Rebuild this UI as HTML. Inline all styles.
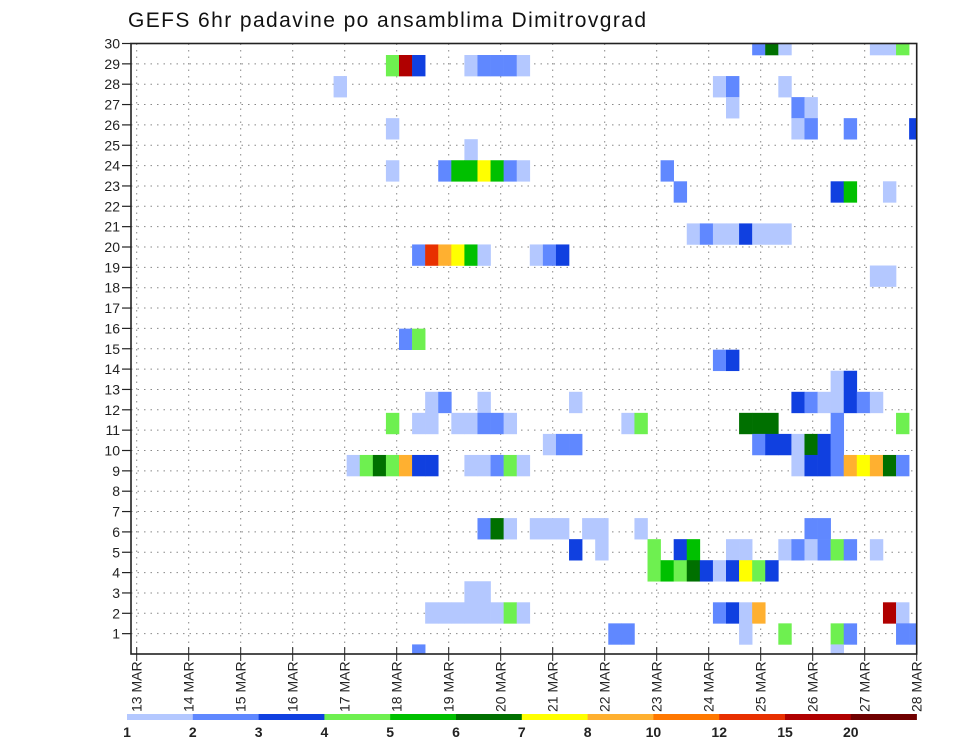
<!DOCTYPE html>
<html><head><meta charset="utf-8"><style>
body{margin:0;background:#fff;}
svg{display:block;font-family:"Liberation Sans",sans-serif;}
</style></head><body>
<svg id="chart" width="960" height="742" viewBox="0 0 960 742" xmlns="http://www.w3.org/2000/svg">
<rect width="960" height="742" fill="#fff"/>
<text x="128" y="27" font-size="21" textLength="518" lengthAdjust="spacing" fill="#111">GEFS 6hr padavine po ansamblima Dimitrovgrad</text>
<defs><clipPath id="plotclip"><rect x="131" y="43.5" width="785.7" height="610.5"/></clipPath></defs>
<g id="grid"></g>
<g id="cells" clip-path="url(#plotclip)"></g>
<rect x="131" y="43.5" width="785.7" height="610.5" fill="none" stroke="#222" stroke-width="1.6"/>
<g id="yaxis"></g>
<g id="xaxis"></g>
<g id="legend"></g>
</svg>
<script>
const memberIdx = [
30,30,30,30,30,30,
29,29,29,29,29,29,29,29,
28,28,28,28,
27,27,27,
26,26,26,26,26,
25,
24,24,24,24,24,24,24,24,24,
23,23,23,23,
21,21,21,21,21,21,21,21,
20,20,20,20,20,20,20,20,20,
19,19,
16,16,
15,15,
14,14,
13,13,13,13,13,13,13,13,13,13,13,
12,12,12,12,12,12,12,12,12,12,12,12,12,12,12,
11,11,11,11,11,11,11,11,11,11,
10,10,10,10,10,10,10,10,10,10,10,10,10,10,10,10,10,10,10,10,10,
7,7,7,7,7,7,7,7,7,7,7,
6,6,6,6,6,6,6,6,6,6,6,6,6,6,
5,5,5,5,5,5,5,5,5,5,
4,4,
3,3,3,3,3,3,3,3,3,3,3,3,3,3,
2,2,2,2,2,2,2,2,
1,1];
const stepIdx = [
47,48,49,56,57,58,
19,20,21,25,26,27,28,29,
15,44,45,49,
45,50,51,
19,50,51,54,59,
25,
19,23,24,25,26,27,28,29,40,
41,53,54,57,
42,43,44,45,46,47,48,49,
21,22,23,24,25,26,30,31,32,
56,57,
20,21,
44,45,
53,54,
22,23,26,33,50,51,52,53,54,55,56,
19,21,22,24,25,26,27,28,37,38,46,47,48,53,58,
31,32,33,47,48,49,50,51,52,53,
16,17,18,19,20,21,22,25,26,27,28,29,50,51,52,53,54,55,56,57,58,
26,27,28,30,31,32,34,35,38,51,52,
33,35,39,41,42,45,46,49,50,51,52,53,54,56,
39,40,41,42,43,44,45,46,47,48,
25,26,
22,23,24,25,26,27,28,29,44,45,46,47,57,58,
36,37,46,49,53,54,58,59,
21,53];
const precip = [
2.5,6.5,1.5,1.5,1.5,4.5,
4.5,17,3.5,1.5,2.5,2.5,2.5,1.5,
1.5,1.5,2.5,1.5,
1.5,2.5,1.5,
1.5,1.5,2.5,2.5,3.5,
1.5,
1.5,2.5,5.5,5.5,7.5,5.5,2.5,1.5,2.5,
2.5,3.5,5.5,1.5,
1.5,2.5,1.5,1.5,3.5,1.5,1.5,1.5,
2.5,13,9,7.5,5.5,1.5,1.5,2.5,3.5,
1.5,1.5,
2.5,4.5,
2.5,3.5,
1.5,3.5,
1.5,2.5,1.5,1.5,3.5,2.5,1.5,1.5,3.5,2.5,1.5,
4.5,1.5,1.5,1.5,1.5,2.5,2.5,1.5,1.5,4.5,6.5,6.5,6.5,2.5,4.5,
1.5,2.5,2.5,2.5,3.5,3.5,1.5,6.5,3.5,2.5,
1.5,4.5,6.5,4.5,9,3.5,3.5,1.5,1.5,2.5,4.5,1.5,1.5,3.5,3.5,2.5,9,7.5,9,6.5,2.5,
2.5,6.5,1.5,1.5,1.5,1.5,1.5,1.5,1.5,2.5,2.5,
3.5,1.5,4.5,3.5,5.5,1.5,1.5,1.5,2.5,1.5,2.5,4.5,2.5,1.5,
4.5,5.5,4.5,6.5,3.5,1.5,3.5,7.5,4.5,3.5,
1.5,1.5,
1.5,1.5,1.5,1.5,1.5,1.5,4.5,1.5,2.5,3.5,1.5,9,17,1.5,
2.5,2.5,1.5,4.5,4.5,2.5,2.5,2.5,
2.5,1.5];
const levelBounds = [1,2,3,4,5,6,7,8,10,12,15,20];
const levelLabels = ["1","2","3","4","5","6","7","8","10","12","15","20"];
const levelColors = ["#b4c8ff","#6088ff","#1040e0","#6ef050","#00c000","#007000","#ffff00","#ffb030","#ff7800","#e83000","#b00000","#700000"];
const dayLabels = ["13 MAR","14 MAR","15 MAR","16 MAR","17 MAR","18 MAR","19 MAR","20 MAR","21 MAR","22 MAR","23 MAR","24 MAR","25 MAR","26 MAR","27 MAR","28 MAR"];
const memberLabels = [1,2,3,4,5,6,7,8,9,10,11,12,13,14,15,16,17,18,19,20,21,22,23,24,25,26,27,28,29,30];

const NS="http://www.w3.org/2000/svg";
function mk(tag,attrs,parent){const e=document.createElementNS(NS,tag);for(const k in attrs)e.setAttribute(k,attrs[k]);parent.appendChild(e);return e;}
// axis functions
const cellX = s => 137.4 + s*13.08;
const cellW = 13.08;
const cellY = m => 55 + (29-m)*21.05;
const cellH = 21.05;
const dayX = d => 136.7 + d*52.0;
const memY = m => 43.5 + (30-m)*20.35;
function colorFor(v){let idx=0;for(let i=0;i<levelBounds.length;i++){if(v>=levelBounds[i])idx=i;}return levelColors[idx];}

const grid=document.getElementById('grid');
memberLabels.forEach(m=>{
  const l=mk('line',{x1:131,x2:916.7,y1:memY(m),y2:memY(m),stroke:'#888','stroke-width':1,'stroke-dasharray':'1.5,5'},grid);
  
  
});
dayLabels.forEach((d,i)=>{
  const l=mk('line',{x1:dayX(i),x2:dayX(i),y1:43.5,y2:654,stroke:'#888','stroke-width':1,'stroke-dasharray':'1.5,5'},grid);
  
  
});

const cells=document.getElementById('cells');
for(let i=0;i<precip.length;i++){
  const r=mk('rect',{x:cellX(stepIdx[i]),y:cellY(memberIdx[i]),width:cellW+0.3,height:cellH+0.3,fill:colorFor(precip[i])},cells);
  
  
}

const ya=document.getElementById('yaxis');
memberLabels.forEach(m=>{
  const y=memY(m);
  const t=mk('line',{x1:122,x2:131,y1:y,y2:y,stroke:'#222','stroke-width':1.2},ya);
  
  
  const tx=mk('text',{x:120,y:y+5,'font-size':14,'text-anchor':'end',fill:'#222'},ya);
  tx.textContent=m;
  
  
});

const xa=document.getElementById('xaxis');
dayLabels.forEach((d,i)=>{
  const x=dayX(i);
  const t=mk('line',{x1:x,x2:x,y1:647,y2:661,stroke:'#222','stroke-width':1},xa);
  
  
  const tx=mk('text',{x:0,y:0,'font-size':14,fill:'#222',transform:`translate(${x+5},712) rotate(-90)`},xa);
  tx.textContent=d;
  
  
});

const lg=document.getElementById('legend');
const lx0=127, lw=65.8;
levelColors.forEach((c,i)=>{
  const r=mk('rect',{x:lx0+i*lw,y:714,width:lw+0.3,height:6,fill:c},lg);
  
  
  const t=mk('text',{x:lx0+i*lw,y:737,'font-size':14,'font-weight':'bold','text-anchor':'middle',fill:'#222'},lg);
  t.textContent=levelLabels[i];
  
  
});
</script>
</body></html>
